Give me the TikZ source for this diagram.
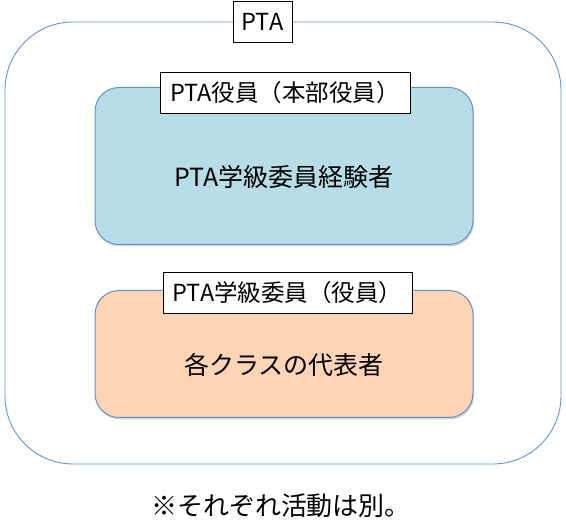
\documentclass[tikz,border=0pt]{standalone}
\usepackage{fontspec}
\setmainfont{Noto Sans CJK JP}
\usetikzlibrary{shadows}

\definecolor{cpframe}{HTML}{6592CB}
\definecolor{cpblue}{HTML}{B7DDE8}
\definecolor{cporange}{HTML}{FBD5B5}

\newcommand{\titlenode}[4]{\node[titlebox,minimum width=#3] (#1) at (#2) {#4};}

\tikzset{
  x=1pt, y=-1pt,
  titlebox/.style={draw=black,fill=white,line width=0.8pt,minimum height=41,inner sep=0pt,font=\fontsize{23.5}{23.5}\selectfont},
  groupbox/.style={draw=cpframe,line width=1pt,rounded corners=24,inner sep=0pt,
    drop shadow={shadow xshift=1pt,shadow yshift=-2pt,opacity=0.35}},
  grouptext/.style={font=\fontsize{25}{25}\selectfont},
}

\begin{document}
\begin{tikzpicture}
  \useasboundingbox (0,0) rectangle (566,526);

  % outer frame
  \node[draw=cpframe,line width=0.9pt,rounded corners=68,minimum width=556,minimum height=442] (pta) at (283,243) {};

  % groups
  \node[groupbox,fill=cpblue,minimum width=378,minimum height=157] (honbu) at (284,166) {};
  \node[groupbox,fill=cporange,minimum width=378,minimum height=127] (gakkyu) at (284,354) {};
  \node[grouptext] (honbutext) at ([yshift=-11pt]honbu.center) {PTA学級委員経験者};
  \node[grouptext] (gakkyutext) at ([yshift=-11pt]gakkyu.center) {各クラスの代表者};

  % titles
  \titlenode{ptatitle}{262.5,22}{59}{PTA}
  \titlenode{honbutitle}{285,92.5}{250}{PTA役員（本部役員）}
  \titlenode{gakkyutitle}{287.5,293}{249}{PTA学級委員（役員）}

  \node[font=\fontsize{26}{26}\selectfont] (note) at (281,506) {※それぞれ活動は別。};

\end{tikzpicture}
\end{document}
